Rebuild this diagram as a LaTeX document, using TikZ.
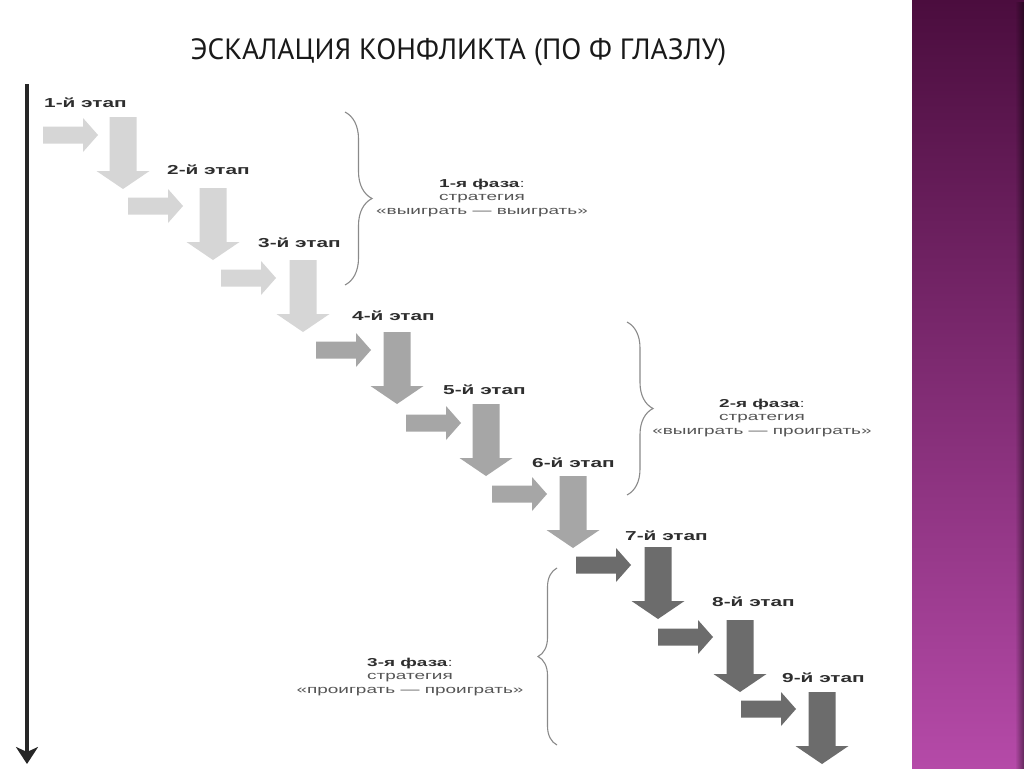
\documentclass[tikz,border=0pt]{standalone}
\usepackage{fontspec}
\setmainfont{Liberation Sans}
\newfontfamily\labfont[FakeStretch=1.6]{Liberation Sans}
\newfontfamily\phfont[FakeStretch=1.65]{Liberation Sans}
\newfontfamily\ttlfont{PT Sans}
\usetikzlibrary{decorations.pathreplacing,fadings,arrows.meta}
\definecolor{lightar}{HTML}{D6D6D6}
\definecolor{midar}{HTML}{A6A6A6}
\definecolor{darkar}{HTML}{6C6C6C}
\definecolor{labcol}{HTML}{2E2E2E}
\definecolor{phbold}{HTML}{2E2E2E}
\definecolor{phtext}{HTML}{555555}
\definecolor{bracecol}{HTML}{8A8A8A}
\definecolor{paneltop}{HTML}{4B0D3E}
\definecolor{panelbot}{HTML}{B54AA8}
\newcommand\RArr[3]{\fill[#1] (#2,#3-8.5) -- (#2+40,#3-8.5) -- (#2+40,#3-17) -- (#2+55,#3) -- (#2+40,#3+17) -- (#2+40,#3+8.5) -- (#2,#3+8.5) -- cycle;}
\newcommand\DArr[3]{\fill[#1] (#2-13.5,#3) -- (#2+13.5,#3) -- (#2+13.5,#3+54) -- (#2+26.5,#3+54) -- (#2,#3+72) -- (#2-26.5,#3+54) -- (#2-13.5,#3+54) -- cycle;}
\begin{document}
\begin{tikzpicture}[x=1pt,y=-1pt,
  stagelab/.style={anchor=west,inner sep=0pt,text=labcol,font=\labfont\bfseries\fontsize{13}{13}\selectfont},
  phasetxt/.style={inner sep=0pt,align=center,text=phtext,font=\phfont\fontsize{11.5}{13.5}\selectfont},
  bracestyle/.style={draw=bracecol,line width=1.1pt,decorate,decoration={brace,amplitude=#1,aspect=0.5}}]
\useasboundingbox (0,0) rectangle (1024,768);
\fill[white] (0,0) rectangle (1024,768);
% side panel
\shade[top color=paneltop,bottom color=panelbot] (912,0) rectangle (1024,768);
\fill[black,opacity=0.45,path fading=west] (1015,0) rectangle (1024,768);
% title
\node[inner sep=0pt,text=black!90] (title) at (458.5,52) {\ttlfont\fontsize{29.3}{29}\selectfont ЭСКАЛАЦИЯ КОНФЛИКТА (ПО Ф ГЛАЗЛУ)};
% timeline
\coordinate (tstart) at (27,84);
\coordinate (tend) at (27,764);
\draw[line width=4.5pt,black!85,-{Stealth[length=17pt,width=22pt,inset=5pt]}] (tstart) -- (tend);
% stages
\RArr{lightar}{43}{135}  \DArr{lightar}{123}{117}
\RArr{lightar}{128}{206} \DArr{lightar}{213}{188}
\RArr{lightar}{221}{278} \DArr{lightar}{303}{260}
\RArr{midar}{316}{350}   \DArr{midar}{397}{332}
\RArr{midar}{406}{423}   \DArr{midar}{486}{404}
\RArr{midar}{492}{494}   \DArr{midar}{573}{476}
\RArr{darkar}{576}{565}  \DArr{darkar}{658}{547}
\RArr{darkar}{658}{637}  \DArr{darkar}{740}{620}
\RArr{darkar}{741}{709}  \DArr{darkar}{822}{692}
\node[stagelab] (s1) at (44,103) {1-й этап};
\node[stagelab] (s2) at (167,170) {2-й этап};
\node[stagelab] (s3) at (258,243) {3-й этап};
\node[stagelab] (s4) at (352,316) {4-й этап};
\node[stagelab] (s5) at (443,390) {5-й этап};
\node[stagelab] (s6) at (532,463) {6-й этап};
\node[stagelab] (s7) at (625,536) {7-й этап};
\node[stagelab] (s8) at (712,602) {8-й этап};
\node[stagelab] (s9) at (782,678) {9-й этап};
% braces
\coordinate (b1a) at (345,112); \coordinate (b1b) at (345,285);
\coordinate (b2a) at (627,322); \coordinate (b2b) at (627,495);
\coordinate (b3a) at (557,745); \coordinate (b3b) at (557,568);
\draw[bracestyle=27pt] (b1a) -- (b1b);
\draw[bracestyle=26pt] (b2a) -- (b2b);
\draw[bracestyle=19pt] (b3a) -- (b3b);
% phase texts
\node[phasetxt] (p1) at (482,198) {\textcolor{phbold}{\bfseries 1-я фаза}:\\стратегия\\«выиграть — выиграть»};
\node[phasetxt] (p2) at (762,418) {\textcolor{phbold}{\bfseries 2-я фаза}:\\стратегия\\«выиграть — проиграть»};
\node[phasetxt] (p3) at (410,677) {\textcolor{phbold}{\bfseries 3-я фаза}:\\стратегия\\«проиграть — проиграть»};
\end{tikzpicture}
\end{document}
